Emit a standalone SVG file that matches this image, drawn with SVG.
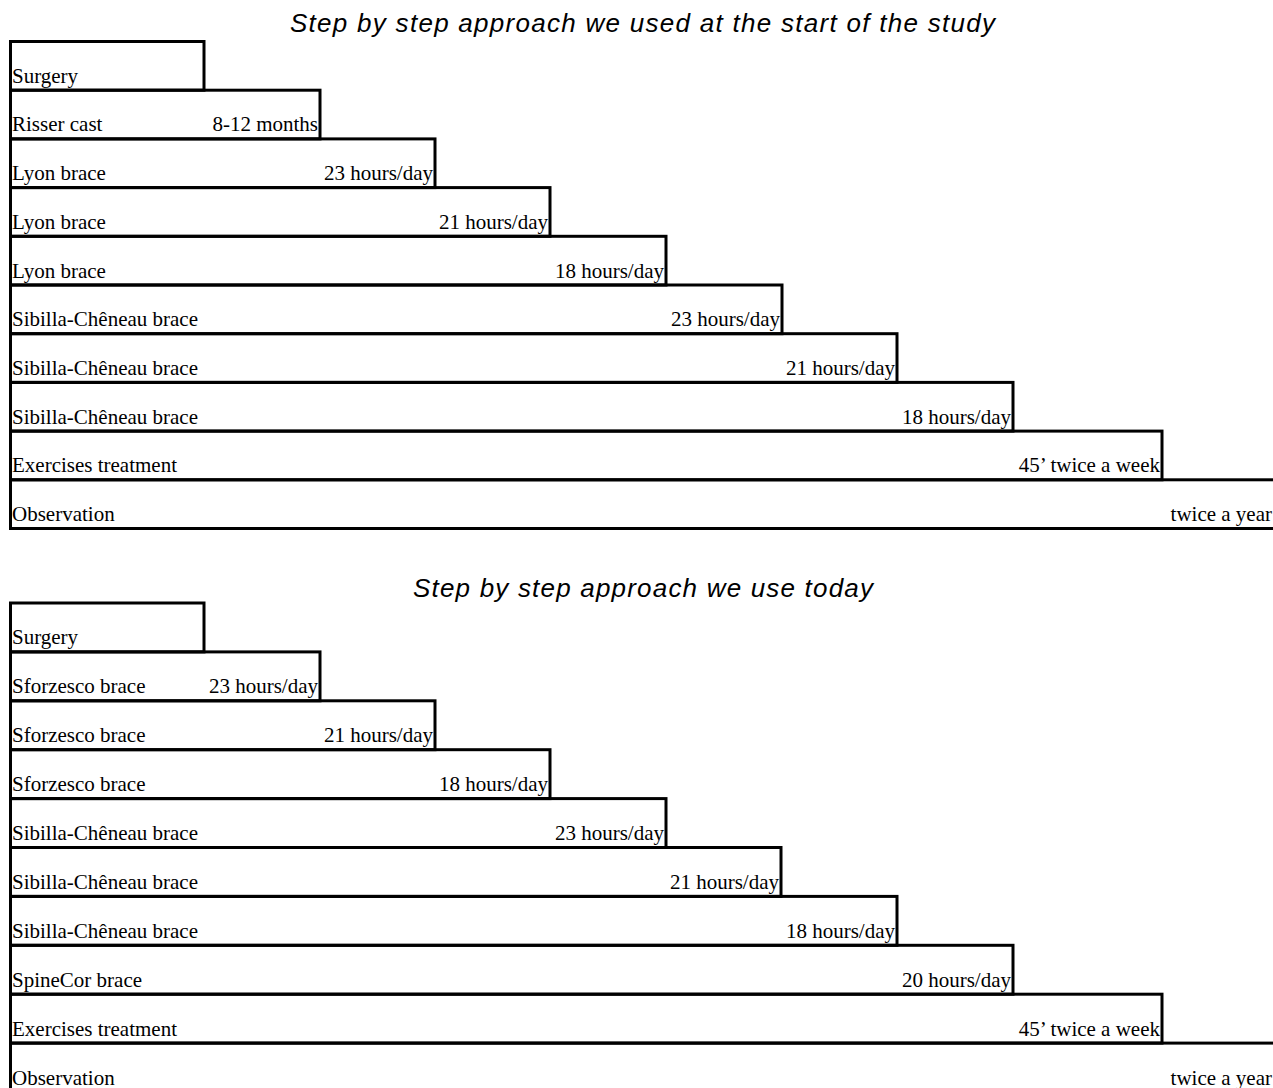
<svg xmlns="http://www.w3.org/2000/svg" width="1273" height="1088" viewBox="0 0 1273 1088">
<style>
.box{fill:none;stroke:#000;stroke-width:3}
.lbl{font-family:"Liberation Serif","Times New Roman",serif;font-size:21px;fill:#000}
.val{font-family:"Liberation Serif","Times New Roman",serif;font-size:21px;fill:#000;text-anchor:end}
.title{font-family:"Liberation Sans",Arial,sans-serif;font-size:26px;font-style:italic;fill:#000}
</style>
<rect width="1273" height="1088" fill="#fff"/>
<text class="title" x="290" y="32" textLength="705" lengthAdjust="spacing">Step by step approach we used at the start of the study</text>
<text class="title" x="413" y="597" textLength="460" lengthAdjust="spacing">Step by step approach we use today</text>
<g id="connectors"></g>
<g id="s1">
<g id="s1-surgery"><rect class="box" x="10.5" y="41.5" width="193.5" height="48.7"/><text class="lbl" x="12" y="82.7">Surgery</text></g>
<g id="s1-risser"><rect class="box" x="10.5" y="90.2" width="309.5" height="48.7"/><text class="lbl" x="12" y="131.4">Risser cast</text><text class="val" x="318" y="131.4">8-12 months</text></g>
<g id="s1-lyon1"><rect class="box" x="10.5" y="138.9" width="424.5" height="48.7"/><text class="lbl" x="12" y="180.1">Lyon brace</text><text class="val" x="433" y="180.1">23 hours/day</text></g>
<g id="s1-lyon2"><rect class="box" x="10.5" y="187.6" width="539.5" height="48.7"/><text class="lbl" x="12" y="228.8">Lyon brace</text><text class="val" x="548" y="228.8">21 hours/day</text></g>
<g id="s1-lyon3"><rect class="box" x="10.5" y="236.3" width="655.5" height="48.7"/><text class="lbl" x="12" y="277.5">Lyon brace</text><text class="val" x="664" y="277.5">18 hours/day</text></g>
<g id="s1-sib1"><rect class="box" x="10.5" y="285" width="771.5" height="48.7"/><text class="lbl" x="12" y="326.2">Sibilla-Chêneau brace</text><text class="val" x="780" y="326.2">23 hours/day</text></g>
<g id="s1-sib2"><rect class="box" x="10.5" y="333.7" width="886.5" height="48.7"/><text class="lbl" x="12" y="374.9">Sibilla-Chêneau brace</text><text class="val" x="895" y="374.9">21 hours/day</text></g>
<g id="s1-sib3"><rect class="box" x="10.5" y="382.4" width="1002.5" height="48.7"/><text class="lbl" x="12" y="423.6">Sibilla-Chêneau brace</text><text class="val" x="1011" y="423.6">18 hours/day</text></g>
<g id="s1-ex"><rect class="box" x="10.5" y="431.1" width="1151.5" height="48.7"/><text class="lbl" x="12" y="472.3">Exercises treatment</text><text class="val" x="1160" y="472.3">45’ twice a week</text></g>
<g id="s1-obs"><rect class="box" x="10.5" y="479.8" width="1280" height="48.7"/><text class="lbl" x="12" y="521">Observation</text><text class="val" x="1272" y="521">twice a year</text></g>
</g>
<g id="s2">
<g id="s2-surgery"><rect class="box" x="10.5" y="603" width="193.5" height="48.9"/><text class="lbl" x="12" y="644.4">Surgery</text></g>
<g id="s2-sf1"><rect class="box" x="10.5" y="651.9" width="309.5" height="48.9"/><text class="lbl" x="12" y="693.3">Sforzesco brace</text><text class="val" x="318" y="693.3">23 hours/day</text></g>
<g id="s2-sf2"><rect class="box" x="10.5" y="700.8" width="424.5" height="48.9"/><text class="lbl" x="12" y="742.2">Sforzesco brace</text><text class="val" x="433" y="742.2">21 hours/day</text></g>
<g id="s2-sf3"><rect class="box" x="10.5" y="749.7" width="539.5" height="48.9"/><text class="lbl" x="12" y="791.1">Sforzesco brace</text><text class="val" x="548" y="791.1">18 hours/day</text></g>
<g id="s2-sib1"><rect class="box" x="10.5" y="798.6" width="655.5" height="48.9"/><text class="lbl" x="12" y="840">Sibilla-Chêneau brace</text><text class="val" x="664" y="840">23 hours/day</text></g>
<g id="s2-sib2"><rect class="box" x="10.5" y="847.5" width="770.5" height="48.9"/><text class="lbl" x="12" y="888.9">Sibilla-Chêneau brace</text><text class="val" x="779" y="888.9">21 hours/day</text></g>
<g id="s2-sib3"><rect class="box" x="10.5" y="896.4" width="886.5" height="48.9"/><text class="lbl" x="12" y="937.8">Sibilla-Chêneau brace</text><text class="val" x="895" y="937.8">18 hours/day</text></g>
<g id="s2-spine"><rect class="box" x="10.5" y="945.3" width="1002.5" height="48.9"/><text class="lbl" x="12" y="986.7">SpineCor brace</text><text class="val" x="1011" y="986.7">20 hours/day</text></g>
<g id="s2-ex"><rect class="box" x="10.5" y="994.2" width="1151.5" height="48.9"/><text class="lbl" x="12" y="1035.6">Exercises treatment</text><text class="val" x="1160" y="1035.6">45’ twice a week</text></g>
<g id="s2-obs"><rect class="box" x="10.5" y="1043.1" width="1280" height="60"/><text class="lbl" x="12" y="1084.5">Observation</text><text class="val" x="1272" y="1084.5">twice a year</text></g>
</g>
</svg>
